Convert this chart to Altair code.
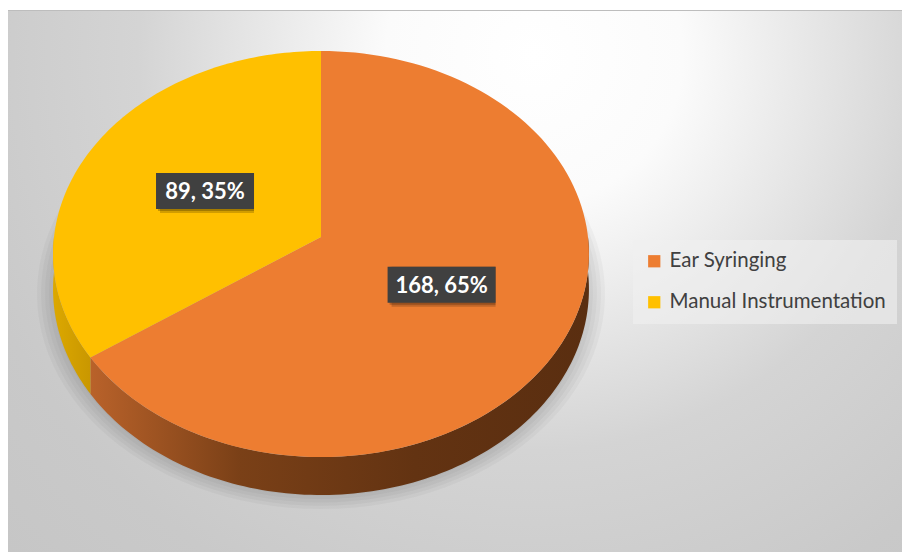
import altair as alt
import pandas as pd

# ---- data ----
categories = ["Ear Syringing", "Manual Instrumentation"]
counts = [168, 89]
face_colors = ["#ED7D31", "#FFC000"]

# ---- geometry params (layout only) ----
P = 0.0838      # perspective factor
DEPTH = 0.1726  # pie thickness in y units
N = 120

df = pd.DataFrame({"category": categories, "value": counts,
                   "order": list(range(len(categories)))})

xs = alt.Scale(domain=[-1, 1], range=[54, 588])
ys = alt.Scale(domain=[-1, 1], range=[438.6, 35.4])

base = (
    alt.Chart(df)
    .transform_window(cum="sum(value)", sort=[alt.SortField("order")], frame=[None, 0])
    .transform_joinaggregate(total="sum(value)")
    .transform_calculate(t0="(datum.cum - datum.value) / datum.total")
    .transform_calculate(t1="datum.cum / datum.total")
)

# background
bg = alt.Chart(alt.Data(values=[{}])).mark_rect(
    color=alt.RadialGradient(
        gradient="radial", x1=0.58, y1=0.045, r1=0, x2=0.58, y2=0.045, r2=1,
        stops=[alt.GradientStop(color="#ffffff", offset=0),
               alt.GradientStop(color="#fbfbfb", offset=0.15),
               alt.GradientStop(color="#d4d4d4", offset=0.4),
               alt.GradientStop(color="#c9c9c9", offset=0.6),
               alt.GradientStop(color="#c0c0c0", offset=1)])
).encode(x=alt.value(8), x2=alt.value(902), y=alt.value(10), y2=alt.value(1000))

border = alt.Chart(alt.Data(values=[{}])).mark_rule(color="#bdbdbd", strokeWidth=1).encode(
    x=alt.value(8), x2=alt.value(902), y=alt.value(10.5))

# soft shadow
shadow = (
    alt.Chart(alt.sequence(0, N + 1, as_="i"))
    .transform_calculate(s="[1.0, 1.015, 1.03, 1.045, 1.06]")
    .transform_flatten(["s"])
    .transform_calculate(t=f"datum.i / {N}")
    .transform_calculate(X="sin(2*PI*datum.t)", Z="cos(2*PI*datum.t)")
    .transform_calculate(px=f"datum.s * datum.X / (1 + {P} * datum.Z)")
    .transform_calculate(py=f"-{DEPTH} - 0.02 + datum.s * datum.Z / (1 + {P} * datum.Z)")
    .mark_line(filled=True, interpolate="linear-closed", fill="black", fillOpacity=0.03, strokeWidth=0)
    .encode(x=alt.X("px:Q", scale=xs, axis=None),
            y=alt.Y("py:Q", scale=ys, axis=None),
            detail="s:N", order=alt.Order("i:Q"))
)

# side walls: polygon along top edge then back along bottom edge
side_base = (
    base.transform_calculate(s0="max(datum.t0, 0.25)")
    .transform_calculate(s1="min(datum.t1, 0.75)")
    .transform_filter("datum.s1 > datum.s0")
    .transform_calculate(step=f"sequence(0, {2 * N + 2})")
    .transform_flatten(["step"])
    .transform_calculate(j=f"datum.step <= {N} ? datum.step : {2 * N + 1} - datum.step")
    .transform_calculate(t=f"datum.s0 + (datum.s1 - datum.s0) * datum.j / {N}")
    .transform_calculate(X="sin(2*PI*datum.t)", Z="cos(2*PI*datum.t)")
    .transform_calculate(px=f"datum.X / (1 + {P} * datum.Z)")
    .transform_calculate(py=f"(datum.Z - (datum.step <= {N} ? 0 : {DEPTH})) / (1 + {P} * datum.Z)")
)
side_enc = dict(x=alt.X("px:Q", scale=xs, axis=None),
                y=alt.Y("py:Q", scale=ys, axis=None),
                order=alt.Order("step:Q"))
side_orange = side_base.transform_filter(f"datum.category == '{categories[0]}'").mark_line(
    filled=True, interpolate="linear-closed", strokeWidth=0,
    fill=alt.LinearGradient(
        gradient="linear", x1=0, y1=0, x2=1, y2=0,
        stops=[alt.GradientStop(color="#b9622a", offset=0),
               alt.GradientStop(color="#7a4017", offset=0.3),
               alt.GradientStop(color="#633312", offset=0.65),
               alt.GradientStop(color="#5a2e10", offset=1)])
).encode(**side_enc)
side_yellow = side_base.transform_filter(f"datum.category == '{categories[1]}'").mark_line(
    filled=True, interpolate="linear-closed", strokeWidth=0,
    fill=alt.LinearGradient(
        gradient="linear", x1=0, y1=0, x2=1, y2=0,
        stops=[alt.GradientStop(color="#dca800", offset=0),
               alt.GradientStop(color="#c99700", offset=1)])
).encode(**side_enc)

# top face
face = (
    base.transform_calculate(step=f"sequence(0, {N + 1})")
    .transform_flatten(["step"])
    .transform_calculate(t=f"datum.t0 + (datum.t1 - datum.t0) * max(datum.step - 1, 0) / {N - 1}")
    .transform_calculate(r="datum.step == 0 ? 0 : 1")
    .transform_calculate(X="datum.r * sin(2*PI*datum.t)", Z="datum.r * cos(2*PI*datum.t)")
    .transform_calculate(px=f"datum.X / (1 + {P} * datum.Z)")
    .transform_calculate(py=f"datum.Z / (1 + {P} * datum.Z)")
    .mark_line(filled=True, interpolate="linear-closed", strokeWidth=0)
    .encode(
        x=alt.X("px:Q", scale=xs, axis=None),
        y=alt.Y("py:Q", scale=ys, axis=None),
        color=alt.Color("category:N",
                        scale=alt.Scale(domain=categories, range=face_colors),
                        legend=alt.Legend(title=None, orient="none", legendX=633, legendY=240,
                                          fillColor="rgba(240,240,240,0.6)", padding=11,
                                          symbolType="square", symbolSize=150,
                                          symbolStrokeWidth=0, labelFont="Lato",
                                          labelFontSize=20.5, labelColor="#404040",
                                          rowPadding=20, labelOffset=5, labelLimit=400)),
        order=alt.Order("step:Q"),
    )
)

# data labels
lab = (
    base.transform_calculate(tm="(datum.t0 + datum.t1) / 2")
    .transform_calculate(X="0.5 * sin(2*PI*datum.tm)", Z="0.5 * cos(2*PI*datum.tm)")
    .transform_calculate(lx=f"datum.X / (1 + {P} * datum.Z)")
    .transform_calculate(ly=f"datum.Z / (1 + {P} * datum.Z)")
    .transform_calculate(label="toString(datum.value) + ', ' + format(datum.value / datum.total, '.0%')")
    .transform_calculate(hw="(28 + 10 * length(datum.label)) / 2 / 267")
    .transform_calculate(bx0="datum.lx - datum.hw", bx1="datum.lx + datum.hw")
    .transform_calculate(by0="datum.ly - 18 / 201.6", by1="datum.ly + 18 / 201.6")
)
box_enc = dict(x=alt.X("bx0:Q", scale=xs, axis=None), x2="bx1:Q",
               y=alt.Y("by0:Q", scale=ys, axis=None), y2="by1:Q")
box_shadow1 = lab.mark_rect(color="black", opacity=0.18, xOffset=4, yOffset=4).encode(**box_enc)
box_shadow2 = lab.mark_rect(color="black", opacity=0.22, xOffset=2, yOffset=2).encode(**box_enc)
box = lab.mark_rect(color="#404040").encode(**box_enc)
text = lab.mark_text(font="Lato", fontWeight="bold", fontSize=22, color="white", dy=1).encode(
    x=alt.X("lx:Q", scale=xs, axis=None),
    y=alt.Y("ly:Q", scale=ys, axis=None),
    text="label:N")

chart = alt.layer(
    bg, border, shadow, side_orange, side_yellow, face, box_shadow1, box_shadow2, box, text
).properties(
    width=902, height=552, padding=0, autosize=alt.AutoSizeParams(type="none"),
    background="white"
).configure_view(stroke=None)

chart.save("out.html", embed_options={"renderer": "svg", "actions": False})
